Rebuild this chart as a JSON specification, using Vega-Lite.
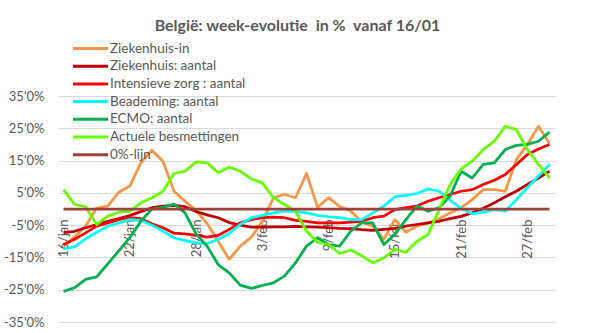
{
  "$schema": "https://vega.github.io/schema/vega-lite/v6.json",
  "width": 497,
  "height": 226,
  "autosize": {"type": "none"},
  "padding": {"left": 58, "top": 96, "right": 40, "bottom": 11},
  "background": "white",
  "title": {
    "text": "België: week-evolutie \u00a0in % \u00a0vanaf 16/01",
    "font": "Lato",
    "fontSize": 16,
    "fontWeight": "bold",
    "color": "#595959",
    "anchor": "middle",
    "dx": -9,
    "offset": 6
  },
  "config": {
    "view": {"stroke": null},
    "font": "Lato"
  },
  "data": {
    "values": [
      {"datum": "2021-01-16", "Ziekenhuis-in": -11.5, "Ziekenhuis: aantal": -7.3, "Intensieve zorg : aantal": -11, "Beademing: aantal": -12.3, "ECMO: aantal": -25.5, "Actuele besmettingen": 6, "0%-lijn": 0},
      {"datum": "2021-01-17", "Ziekenhuis-in": -8.7, "Ziekenhuis: aantal": -6.9, "Intensieve zorg : aantal": -9.4, "Beademing: aantal": -11.7, "ECMO: aantal": -24.4, "Actuele besmettingen": 1.4, "0%-lijn": 0},
      {"datum": "2021-01-18", "Ziekenhuis-in": -5.3, "Ziekenhuis: aantal": -5.8, "Intensieve zorg : aantal": -7.4, "Beademing: aantal": -9.2, "ECMO: aantal": -21.8, "Actuele besmettingen": 0.7, "0%-lijn": 0},
      {"datum": "2021-01-19", "Ziekenhuis-in": 0.3, "Ziekenhuis: aantal": -4.8, "Intensieve zorg : aantal": -5.3, "Beademing: aantal": -7.2, "ECMO: aantal": -21, "Actuele besmettingen": -4.8, "0%-lijn": 0},
      {"datum": "2021-01-20", "Ziekenhuis-in": 0.9, "Ziekenhuis: aantal": -3.8, "Intensieve zorg : aantal": -4.3, "Beademing: aantal": -5.3, "ECMO: aantal": -17, "Actuele besmettingen": -2.2, "0%-lijn": 0},
      {"datum": "2021-01-21", "Ziekenhuis-in": 5.2, "Ziekenhuis: aantal": -3, "Intensieve zorg : aantal": -3.3, "Beademing: aantal": -4.3, "ECMO: aantal": -13, "Actuele besmettingen": -1, "0%-lijn": 0},
      {"datum": "2021-01-22", "Ziekenhuis-in": 7.1, "Ziekenhuis: aantal": -2, "Intensieve zorg : aantal": -2.7, "Beademing: aantal": -3.3, "ECMO: aantal": -8.9, "Actuele besmettingen": -0.7, "0%-lijn": 0},
      {"datum": "2021-01-23", "Ziekenhuis-in": 14.3, "Ziekenhuis: aantal": -0.8, "Intensieve zorg : aantal": -3, "Beademing: aantal": -3.5, "ECMO: aantal": -3.8, "Actuele besmettingen": 1.9, "0%-lijn": 0},
      {"datum": "2021-01-24", "Ziekenhuis-in": 18.2, "Ziekenhuis: aantal": 0.4, "Intensieve zorg : aantal": -4.6, "Beademing: aantal": -5, "ECMO: aantal": 0, "Actuele besmettingen": 3.5, "0%-lijn": 0},
      {"datum": "2021-01-25", "Ziekenhuis-in": 14.8, "Ziekenhuis: aantal": 0.9, "Intensieve zorg : aantal": -5.8, "Beademing: aantal": -6.9, "ECMO: aantal": 0.5, "Actuele besmettingen": 5.5, "0%-lijn": 0},
      {"datum": "2021-01-26", "Ziekenhuis-in": 5.5, "Ziekenhuis: aantal": 1.1, "Intensieve zorg : aantal": -7.5, "Beademing: aantal": -8.9, "ECMO: aantal": 1.5, "Actuele besmettingen": 11, "0%-lijn": 0},
      {"datum": "2021-01-27", "Ziekenhuis-in": 2.4, "Ziekenhuis: aantal": 0.7, "Intensieve zorg : aantal": -7.7, "Beademing: aantal": -9.8, "ECMO: aantal": -1.2, "Actuele besmettingen": 11.7, "0%-lijn": 0},
      {"datum": "2021-01-28", "Ziekenhuis-in": -0.5, "Ziekenhuis: aantal": -0.8, "Intensieve zorg : aantal": -8.2, "Beademing: aantal": -10.5, "ECMO: aantal": -7.7, "Actuele besmettingen": 14.6, "0%-lijn": 0},
      {"datum": "2021-01-29", "Ziekenhuis-in": -4.5, "Ziekenhuis: aantal": -1.8, "Intensieve zorg : aantal": -8.7, "Beademing: aantal": -10.7, "ECMO: aantal": -11.5, "Actuele besmettingen": 14.3, "0%-lijn": 0},
      {"datum": "2021-01-30", "Ziekenhuis-in": -10, "Ziekenhuis: aantal": -2.7, "Intensieve zorg : aantal": -8.2, "Beademing: aantal": -9.4, "ECMO: aantal": -17.2, "Actuele besmettingen": 11.2, "0%-lijn": 0},
      {"datum": "2021-01-31", "Ziekenhuis-in": -15.6, "Ziekenhuis: aantal": -4.2, "Intensieve zorg : aantal": -6.3, "Beademing: aantal": -7.6, "ECMO: aantal": -19.8, "Actuele besmettingen": 13, "0%-lijn": 0},
      {"datum": "2021-02-01", "Ziekenhuis-in": -11.5, "Ziekenhuis: aantal": -5, "Intensieve zorg : aantal": -4.3, "Beademing: aantal": -4.8, "ECMO: aantal": -23.6, "Actuele besmettingen": 11.7, "0%-lijn": 0},
      {"datum": "2021-02-02", "Ziekenhuis-in": -8.7, "Ziekenhuis: aantal": -5.6, "Intensieve zorg : aantal": -3.3, "Beademing: aantal": -2.7, "ECMO: aantal": -24.6, "Actuele besmettingen": 9.3, "0%-lijn": 0},
      {"datum": "2021-02-03", "Ziekenhuis-in": -4, "Ziekenhuis: aantal": -5.6, "Intensieve zorg : aantal": -2.7, "Beademing: aantal": -2, "ECMO: aantal": -23.7, "Actuele besmettingen": 8.1, "0%-lijn": 0},
      {"datum": "2021-02-04", "Ziekenhuis-in": 3.5, "Ziekenhuis: aantal": -5.5, "Intensieve zorg : aantal": -2.5, "Beademing: aantal": -1.2, "ECMO: aantal": -22.9, "Actuele besmettingen": 3.5, "0%-lijn": 0},
      {"datum": "2021-02-05", "Ziekenhuis-in": 4.5, "Ziekenhuis: aantal": -5.5, "Intensieve zorg : aantal": -2.7, "Beademing: aantal": -0.7, "ECMO: aantal": -20.8, "Actuele besmettingen": 1.4, "0%-lijn": 0},
      {"datum": "2021-02-06", "Ziekenhuis-in": 3.5, "Ziekenhuis: aantal": -5.4, "Intensieve zorg : aantal": -3.5, "Beademing: aantal": -0.7, "ECMO: aantal": -16.7, "Actuele besmettingen": -0.7, "0%-lijn": 0},
      {"datum": "2021-02-07", "Ziekenhuis-in": 11, "Ziekenhuis: aantal": -5.5, "Intensieve zorg : aantal": -3.8, "Beademing: aantal": -1.2, "ECMO: aantal": -11.5, "Actuele besmettingen": -6.9, "0%-lijn": 0},
      {"datum": "2021-02-08", "Ziekenhuis-in": 0.5, "Ziekenhuis: aantal": -5.6, "Intensieve zorg : aantal": -4.3, "Beademing: aantal": -2, "ECMO: aantal": -8.9, "Actuele besmettingen": -10.3, "0%-lijn": 0},
      {"datum": "2021-02-09", "Ziekenhuis-in": 3.5, "Ziekenhuis: aantal": -5.8, "Intensieve zorg : aantal": -4.3, "Beademing: aantal": -2.4, "ECMO: aantal": -11, "Actuele besmettingen": -11, "0%-lijn": 0},
      {"datum": "2021-02-10", "Ziekenhuis-in": 0.8, "Ziekenhuis: aantal": -6, "Intensieve zorg : aantal": -4.3, "Beademing: aantal": -2.7, "ECMO: aantal": -11.5, "Actuele besmettingen": -13.8, "0%-lijn": 0},
      {"datum": "2021-02-11", "Ziekenhuis-in": -0.6, "Ziekenhuis: aantal": -6.1, "Intensieve zorg : aantal": -4.1, "Beademing: aantal": -3.3, "ECMO: aantal": -6.9, "Actuele besmettingen": -12.7, "0%-lijn": 0},
      {"datum": "2021-02-12", "Ziekenhuis-in": -4, "Ziekenhuis: aantal": -6.4, "Intensieve zorg : aantal": -3.8, "Beademing: aantal": -3.3, "ECMO: aantal": -4.3, "Actuele besmettingen": -14.5, "0%-lijn": 0},
      {"datum": "2021-02-13", "Ziekenhuis-in": -5.3, "Ziekenhuis: aantal": -6.6, "Intensieve zorg : aantal": -2.7, "Beademing: aantal": -1.2, "ECMO: aantal": -4.3, "Actuele besmettingen": -16.7, "0%-lijn": 0},
      {"datum": "2021-02-14", "Ziekenhuis-in": -9.4, "Ziekenhuis: aantal": -6.3, "Intensieve zorg : aantal": -2.2, "Beademing: aantal": 0.9, "ECMO: aantal": -11, "Actuele besmettingen": -15.1, "0%-lijn": 0},
      {"datum": "2021-02-15", "Ziekenhuis-in": -3.3, "Ziekenhuis: aantal": -6, "Intensieve zorg : aantal": -0.2, "Beademing: aantal": 3.8, "ECMO: aantal": -7.9, "Actuele besmettingen": -12.5, "0%-lijn": 0},
      {"datum": "2021-02-16", "Ziekenhuis-in": -7.2, "Ziekenhuis: aantal": -5.3, "Intensieve zorg : aantal": 0.4, "Beademing: aantal": 4.2, "ECMO: aantal": -3.3, "Actuele besmettingen": -13.4, "0%-lijn": 0},
      {"datum": "2021-02-17", "Ziekenhuis-in": -5.3, "Ziekenhuis: aantal": -4.8, "Intensieve zorg : aantal": 0.9, "Beademing: aantal": 4.8, "ECMO: aantal": 0.9, "Actuele besmettingen": -10, "0%-lijn": 0},
      {"datum": "2021-02-18", "Ziekenhuis-in": -4.3, "Ziekenhuis: aantal": -4.3, "Intensieve zorg : aantal": 2.4, "Beademing: aantal": 6.2, "ECMO: aantal": -0.7, "Actuele besmettingen": -7.9, "0%-lijn": 0},
      {"datum": "2021-02-19", "Ziekenhuis-in": -3, "Ziekenhuis: aantal": -3.8, "Intensieve zorg : aantal": 3.5, "Beademing: aantal": 5.5, "ECMO: aantal": 0.4, "Actuele besmettingen": -0.2, "0%-lijn": 0},
      {"datum": "2021-02-20", "Ziekenhuis-in": -1.2, "Ziekenhuis: aantal": -3, "Intensieve zorg : aantal": 4.5, "Beademing: aantal": 2.7, "ECMO: aantal": 4, "Actuele besmettingen": 7.6, "0%-lijn": 0},
      {"datum": "2021-02-21", "Ziekenhuis-in": 0.4, "Ziekenhuis: aantal": -2.3, "Intensieve zorg : aantal": 5.5, "Beademing: aantal": 0.2, "ECMO: aantal": 11.7, "Actuele besmettingen": 12.4, "0%-lijn": 0},
      {"datum": "2021-02-22", "Ziekenhuis-in": 2.9, "Ziekenhuis: aantal": -1.2, "Intensieve zorg : aantal": 6, "Beademing: aantal": -1.5, "ECMO: aantal": 9.6, "Actuele besmettingen": 14.8, "0%-lijn": 0},
      {"datum": "2021-02-23", "Ziekenhuis-in": 6, "Ziekenhuis: aantal": 0.2, "Intensieve zorg : aantal": 7.6, "Beademing: aantal": -1, "ECMO: aantal": 13.8, "Actuele besmettingen": 18.4, "0%-lijn": 0},
      {"datum": "2021-02-24", "Ziekenhuis-in": 6, "Ziekenhuis: aantal": 1.9, "Intensieve zorg : aantal": 8.9, "Beademing: aantal": -0.2, "ECMO: aantal": 14.3, "Actuele besmettingen": 21, "0%-lijn": 0},
      {"datum": "2021-02-25", "Ziekenhuis-in": 5.5, "Ziekenhuis: aantal": 3.8, "Intensieve zorg : aantal": 10.7, "Beademing: aantal": -0.7, "ECMO: aantal": 18.4, "Actuele besmettingen": 25.6, "0%-lijn": 0},
      {"datum": "2021-02-26", "Ziekenhuis-in": 15.3, "Ziekenhuis: aantal": 5.5, "Intensieve zorg : aantal": 13.8, "Beademing: aantal": 2.9, "ECMO: aantal": 19.7, "Actuele besmettingen": 24.6, "0%-lijn": 0},
      {"datum": "2021-02-27", "Ziekenhuis-in": 20, "Ziekenhuis: aantal": 7.6, "Intensieve zorg : aantal": 16.9, "Beademing: aantal": 6.6, "ECMO: aantal": 20, "Actuele besmettingen": 18.4, "0%-lijn": 0},
      {"datum": "2021-02-28", "Ziekenhuis-in": 25.6, "Ziekenhuis: aantal": 9.6, "Intensieve zorg : aantal": 18.6, "Beademing: aantal": 10.2, "ECMO: aantal": 21, "Actuele besmettingen": 13.8, "0%-lijn": 0},
      {"datum": "2021-03-01", "Ziekenhuis-in": 20.3, "Ziekenhuis: aantal": 11.7, "Intensieve zorg : aantal": 20, "Beademing: aantal": 13.8, "ECMO: aantal": 23.8, "Actuele besmettingen": 9.6, "0%-lijn": 0}
    ]
  },
  "transform": [
    {"fold": ["Ziekenhuis-in", "Ziekenhuis: aantal", "Intensieve zorg : aantal", "Beademing: aantal", "ECMO: aantal", "Actuele besmettingen", "0%-lijn"], "as": ["reeks", "waarde"]}
  ],
  "mark": {"type": "line", "strokeWidth": 2.75, "strokeJoin": "round"},
  "encoding": {
    "x": {
      "field": "datum",
      "type": "temporal",
      "scale": {
        "type": "utc",
        "domain": [
          {"year": 2021, "month": 1, "date": 15, "hours": 12, "utc": true},
          {"year": 2021, "month": 3, "date": 1, "hours": 12, "utc": true}
        ]
      },
      "axis": {
        "title": null,
        "orient": "bottom",
        "offset": -112,
        "domain": false,
        "ticks": false,
        "grid": false,
        "labelAngle": -90,
        "labelPadding": 9,
        "labelFont": "Lato",
        "labelFontSize": 13,
        "labelColor": "#595959",
        "labelOverlap": false,
        "values": [
          {"year": 2021, "month": 1, "date": 16, "utc": true},
          {"year": 2021, "month": 1, "date": 22, "utc": true},
          {"year": 2021, "month": 1, "date": 28, "utc": true},
          {"year": 2021, "month": 2, "date": 3, "utc": true},
          {"year": 2021, "month": 2, "date": 9, "utc": true},
          {"year": 2021, "month": 2, "date": 15, "utc": true},
          {"year": 2021, "month": 2, "date": 21, "utc": true},
          {"year": 2021, "month": 2, "date": 27, "utc": true}
        ],
        "labelExpr": "utcFormat(datum.value, '%-d') + '/' + lower(utcFormat(datum.value, '%b'))"
      }
    },
    "y": {
      "field": "waarde",
      "type": "quantitative",
      "scale": {"domain": [-35, 35], "nice": false, "zero": false},
      "axis": {
        "title": null,
        "values": [-35, -25, -15, -5, 5, 15, 25, 35],
        "domain": false,
        "ticks": false,
        "labelPadding": 14,
        "labelFont": "Lato",
        "labelFontSize": 13,
        "labelColor": "#595959",
        "gridColor": "#D9D9D9",
        "gridWidth": 1,
        "labelExpr": "(datum.value < 0 ? '-' : '') + replace(format(abs(datum.value), '.1f'), '.', \"'\") + '%'"
      }
    },
    "color": {
      "field": "reeks",
      "type": "nominal",
      "scale": {
        "domain": ["Ziekenhuis-in", "Ziekenhuis: aantal", "Intensieve zorg : aantal", "Beademing: aantal", "ECMO: aantal", "Actuele besmettingen", "0%-lijn"],
        "range": ["#F79646", "#C00000", "#FF0000", "#00FFFF", "#00B050", "#66FF00", "#A0403C"]
      },
      "legend": {
        "title": null,
        "orient": "none",
        "legendX": 24,
        "legendY": -56,
        "padding": 0,
        "symbolType": "M-2.5,0H2.5",
        "symbolSize": 196,
        "symbolStrokeWidth": 3,
        "rowPadding": 2.7,
        "labelOffset": 11,
        "labelFont": "Lato",
        "labelFontSize": 13.5,
        "labelColor": "#595959",
        "labelLimit": 300
      }
    }
  }
}
